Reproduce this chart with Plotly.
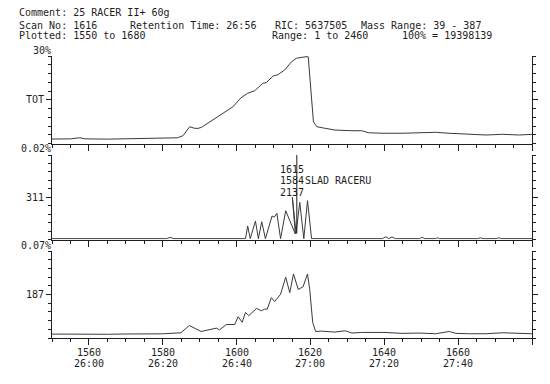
import plotly.graph_objects as go

# ---------------- data ----------------
scan_top = [1550, 1555, 1557.5, 1559, 1565, 1570, 1573, 1575, 1578, 1582, 1584, 1585.5,
            1587.3, 1588.5, 1589.5, 1590.5, 1592.5, 1594.7, 1597, 1599, 1601.2, 1603.0,
            1604.9, 1607.1, 1608, 1609.9, 1611.2, 1613, 1614.9, 1616.2, 1618.8, 1619.4,
            1620.8, 1621.7, 1623.9, 1626.6, 1631.2, 1633.9, 1635.7, 1639.4, 1644.8,
            1649.4, 1653.9, 1657.5, 1663, 1667.5, 1672.1, 1676.6, 1680]
tot_vals = [5.1, 5.3, 6.6, 5.3, 5.0, 5.2, 5.8, 5.3, 5.6, 5.8, 6.5, 9.0,
            19.2, 17.5, 17.2, 18.5, 24.0, 30.6, 36.0, 42.0, 52.3, 57.4,
            60.3, 68.8, 69.5, 77.1, 78.6, 84.0, 93.5, 97.4, 99.2, 99.0,
            24.9, 19.2, 17.4, 15.4, 14.6, 14.6, 12.3, 11.7, 11.7,
            12.3, 12.8, 11.7, 10.9, 9.7, 10.5, 9.7, 10.5]

scan_mid = [1550, 1581, 1582, 1583, 1602.4, 1603.0, 1603.7, 1605.1, 1605.9, 1606.8, 1607.8,
            1609.6, 1610.2, 1610.9, 1611.9, 1613.3, 1615.9, 1615.1, 1616.1, 1617.1, 1618.2,
            1619.2, 1620.3, 1639.5, 1640.3, 1641.2, 1642.1, 1643, 1649.5, 1650.3, 1651,
            1653.8, 1654.4, 1655, 1665.3, 1666, 1666.7, 1670.3, 1671, 1671.7, 1680]
m311_vals = [1.0, 1.0, 2.5, 1.0, 1.0, 16.0, 1.0, 21.9, 1.0, 21.0, 1.0,
             27.8, 26.5, 31.0, 1.0, 34.0, 6.5, 50.0, 7.5, 44.0, 1.0,
             46.0, 1.0, 1.0, 3.2, 1.2, 3.0, 1.0, 1.0, 2.6, 1.0,
             1.0, 2.0, 1.0, 1.0, 2.0, 1.0, 1.0, 2.0, 1.0, 1.0]

scan_bot = [1550, 1556, 1560, 1565, 1570, 1575, 1580, 1584.9, 1587.2, 1590.4, 1593.1,
            1594.5, 1595.4, 1597.2, 1599.5, 1600.4, 1601.5, 1602.4, 1603.3, 1605.4,
            1606.7, 1607.6, 1608.3, 1609.4, 1610.3, 1611.9, 1613.3, 1614.4, 1615.4,
            1616.7, 1618.0, 1619.2, 1619.8, 1620.6, 1621.4, 1623, 1626.6, 1629.4,
            1631.2, 1633.9, 1640.2, 1644.8, 1649.4, 1653.9, 1657.6, 1659.4, 1663,
            1667.5, 1672.1, 1676.6, 1680]
m187_vals = [4.5, 4.2, 4.6, 4.3, 4.6, 4.4, 4.8, 6.0, 14.3, 7.5, 9.8,
             11.3, 9.4, 15.5, 15.5, 24.5, 18.1, 29.4, 25.7, 34.0,
             31.3, 33.2, 33.2, 46.4, 41.9, 50.2, 69.8, 52.1, 73.6,
             55.8, 58.9, 73.6, 55.8, 18.1, 7.5, 7.9, 6.8, 8.3,
             5.7, 6.4, 6.4, 5.3, 5.7, 4.9, 7.5, 5.3, 4.9,
             4.9, 6.0, 4.9, 4.9]

cursor_scan = 1616.3
cursor_span = [7.0, 100.0]

major_ticks = [1560, 1580, 1600, 1620, 1640, 1660, 1680]
scan_labels = ["1560", "1580", "1600", "1620", "1640", "1660", ""]
time_labels = ["26:00", "26:20", "26:40", "27:00", "27:20", "27:40", ""]
panel_labels = ["TOT", "311", "187"]          # top, middle, bottom
scale_labels = ["30%", "0.02%", "0.07%"]      # above top, middle, bottom panels
peak_info = ["1615", "1584", "2137"]
peak_name = "SLAD RACERU"

header = [
    ("Comment: 25 RACER II+ 60g", 17, 13),
    ("Scan No: 1616", 17, 25),
    ("Retention Time: 26:56", 128, 25),
    ("RIC: 5637505", 273, 25),
    ("Mass Range: 39 - 387", 359, 25),
    ("Plotted: 1550 to 1680", 17, 36),
    ("Range: 1 to 2460", 270, 36),
    ("100% = 19398139", 400, 36),
]

# ---------------- layout helpers ----------------
W, H = 550, 384
ML, MR, MT, MB = 52, 18, 56, 46
PW, PH = W - ML - MR, H - MT - MB


def px(x):
    return (x - ML) / PW


def py(y):
    return (H - MB - y) / PH


FONT = "DejaVu Sans Mono"
INK = "#1e1e1e"
LINE = "#3a3a3a"

minor_x = list(range(1550, 1681, 5))
minor_y = list(range(0, 101, 10))

fig = go.Figure()
line_style = dict(color=LINE, width=1)
fig.add_trace(go.Scatter(x=scan_top, y=tot_vals, mode="lines", line=line_style,
                         xaxis="x3", yaxis="y3", hoverinfo="skip"))
fig.add_trace(go.Scatter(x=scan_mid, y=m311_vals, mode="lines", line=line_style,
                         xaxis="x2", yaxis="y2", hoverinfo="skip"))
fig.add_trace(go.Scatter(x=[cursor_scan, cursor_scan], y=cursor_span, mode="lines",
                         line=dict(color=INK, width=1), xaxis="x2", yaxis="y2",
                         hoverinfo="skip"))
fig.add_trace(go.Scatter(x=scan_bot, y=m187_vals, mode="lines", line=line_style,
                         xaxis="x", yaxis="y", hoverinfo="skip"))


def xaxis(anchor, match=None):
    d = dict(range=[1550, 1680], anchor=anchor, showline=True, linecolor=INK,
             linewidth=1, ticks="outside", ticklen=6, tickwidth=1, tickcolor=INK,
             tickmode="array", tickvals=major_ticks, showticklabels=False,
             showgrid=False, zeroline=False,
             minor=dict(tickmode="array", tickvals=minor_x, ticks="outside",
                        ticklen=3, tickcolor=INK, tickwidth=1, showgrid=False))
    if match:
        d["matches"] = match
    return d


def yaxis(label, domain, anchor):
    return dict(range=[0, 100], domain=domain, anchor=anchor, showline=True,
                linecolor=INK, linewidth=1, mirror="ticks", ticks="outside",
                ticklen=5, tickwidth=1, tickcolor=INK, tickmode="array",
                tickvals=[0, 50, 100], ticktext=["", label, ""],
                showgrid=False, zeroline=False,
                tickfont=dict(family=FONT, size=10, color=INK),
                minor=dict(tickmode="array", tickvals=minor_y, ticks="outside",
                           ticklen=3, tickcolor=INK, tickwidth=1, showgrid=False))


fig.update_layout(
    width=W, height=H, margin=dict(l=ML, r=MR, t=MT, b=MB),
    paper_bgcolor="white", plot_bgcolor="white", showlegend=False,
    font=dict(family=FONT, size=10, color=INK),
    xaxis=xaxis("y"),
    xaxis2=xaxis("y2", "x"),
    xaxis3=xaxis("y3", "x"),
    yaxis=yaxis(panel_labels[2], [0.0, py(251)], "x"),
    yaxis2=yaxis(panel_labels[1], [py(239.5), py(155)], "x2"),
    yaxis3=yaxis(panel_labels[0], [py(143.5), 1.0], "x3"),
)

tf = dict(family=FONT, size=10, color=INK)
ann = []
for text, x0, y0 in header:
    ann.append(dict(text=text, x=px(x0), y=py(y0), xref="paper", yref="paper",
                    xanchor="left", yanchor="middle", showarrow=False, font=tf))
for text, y0 in zip(scale_labels, [50, 148, 245]):
    ann.append(dict(text=text, x=px(53), y=py(y0), xref="paper", yref="paper",
                    xanchor="right", yanchor="middle", showarrow=False, font=tf))
for text, y0 in zip(peak_info, [169, 180.5, 192]):
    ann.append(dict(text=text, x=px(278), y=py(y0), xref="paper", yref="paper",
                    xanchor="left", yanchor="middle", showarrow=False, font=tf))
ann.append(dict(text=peak_name, x=px(303), y=py(180.5), xref="paper", yref="paper",
                xanchor="left", yanchor="middle", showarrow=False, font=tf))
# x tick labels (scan number and retention time)
for tv, s, t in zip(major_ticks, scan_labels, time_labels):
    if s:
        ann.append(dict(text=s, x=tv, y=py(352), xref="x", yref="paper",
                        xanchor="center", yanchor="middle", showarrow=False, font=tf))
        ann.append(dict(text=t, x=tv, y=py(363.5), xref="x", yref="paper",
                        xanchor="center", yanchor="middle", showarrow=False, font=tf))
fig.update_layout(annotations=ann)

fig.write_html("out.html", config={"displayModeBar": False},
               post_script="document.body.style.margin='0';document.body.style.padding='0';")
